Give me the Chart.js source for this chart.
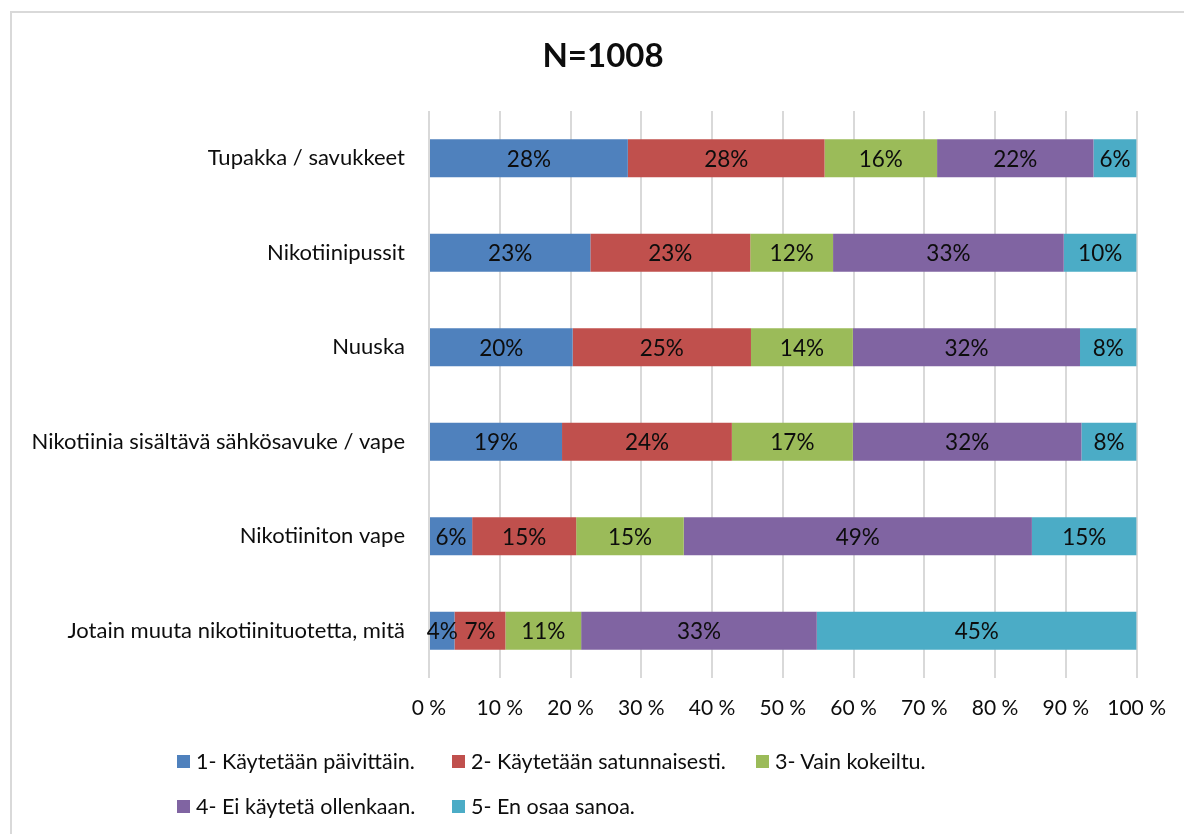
<!DOCTYPE html>
<html>
<head>
<meta charset="utf-8">
<script src="https://cdn.jsdelivr.net/npm/chart.js@4.4.0/dist/chart.umd.min.js"></script>
<style>
  html, body { margin: 0; padding: 0; background: #fff; }
  #wrap { position: relative; width: 1184px; height: 834px; overflow: hidden; font-family: Lato, sans-serif; }
  #frame { position: absolute; left: 10px; top: 11px; width: 1300px; height: 1000px; border: 2px solid #d9d9d9; box-sizing: border-box; }
  #chart { position: absolute; left: 0; top: 0; }
  #title { position: absolute; left: 0; top: 34px; width: 1206px; text-align: center; font-size: 33px; line-height: 40px; font-weight: bold; color: #0d0d0d; }
  #legend { position: absolute; left: 177px; top: 748px; display: grid; grid-template-columns: 275px 304px auto; row-gap: 19px; font-size: 21.5px; color: #0d0d0d; }
  .item { display: flex; align-items: center; white-space: nowrap; height: 26px; }
  .box { width: 13px; height: 13px; margin-right: 6px; flex: none; }
</style>
</head>
<body>
<div id="wrap">
  <div id="frame"></div>
  <canvas id="chart" width="1184" height="834"></canvas>
  <div id="title">N=1008</div>
  <div id="legend"></div>
</div>
<script>
// Kategoriat (tuotteet)
const categories = [
  'Tupakka / savukkeet',
  'Nikotiinipussit',
  'Nuuska',
  'Nikotiinia sisältävä sähkösavuke / vape',
  'Nikotiiniton vape',
  'Jotain muuta nikotiinituotetta, mitä'
];

// Vastausvaihtoehdot
const seriesNames = [
  '1- Käytetään päivittäin.',
  '2- Käytetään satunnaisesti.',
  '3- Vain kokeiltu.',
  '4- Ei käytetä ollenkaan.',
  '5- En osaa sanoa.'
];

// Osuudet (%) luettuna kuvasta
const daily      = [28.1, 22.8, 20.3, 18.8, 6.1, 3.6];
const occasional = [27.8, 22.6, 25.2, 24.0, 14.7, 7.2];
const tried      = [15.9, 11.7, 14.4, 17.1, 15.2, 10.7];
const never      = [22.1, 32.6, 32.1, 32.3, 49.2, 33.3];
const dontKnow   = [6.1, 10.3, 8.0, 7.8, 14.8, 45.2];

const xTicks = [0, 10, 20, 30, 40, 50, 60, 70, 80, 90, 100];

const colors = ['#4F81BD', '#C0504D', '#9BBB59', '#8064A2', '#4BACC6'];
const seriesData = [daily, occasional, tried, never, dontKnow];

// Legenda HTML:nä
const legendEl = document.getElementById('legend');
legendEl.innerHTML = seriesNames.map((name, i) =>
  `<div class="item"><span class="box" style="background:${colors[i]}"></span>${name}</div>`
).join('');

// Arvotekstit palkkien keskelle
const barLabels = {
  id: 'barLabels',
  afterDatasetsDraw(chart) {
    const ctx = chart.ctx;
    ctx.save();
    ctx.font = '22.5px Lato';
    ctx.fillStyle = '#0d0d0d';
    ctx.textAlign = 'center';
    ctx.textBaseline = 'middle';
    chart.data.datasets.forEach((ds, di) => {
      chart.getDatasetMeta(di).data.forEach((el, i) => {
        const cx = (el.x + el.base) / 2;
        ctx.fillText(Math.round(ds.data[i]) + '%', cx, el.y + 1);
      });
    });
    ctx.restore();
  }
};

new Chart(document.getElementById('chart'), {
  type: 'bar',
  data: {
    labels: categories,
    datasets: seriesData.map((d, i) => ({
      label: seriesNames[i],
      data: d,
      backgroundColor: colors[i],
      borderWidth: 0,
      barPercentage: 0.4,
      categoryPercentage: 1.0
    }))
  },
  options: {
    indexAxis: 'y',
    responsive: false,
    animation: false,
    layout: { padding: { left: 0, right: 46, top: 111, bottom: 0 } },
    plugins: {
      legend: { display: false },
      tooltip: { enabled: false },
      title: { display: false }
    },
    scales: {
      x: {
        stacked: true,
        min: 0,
        max: 100,
        afterBuildTicks(scale) { scale.ticks = xTicks.map(v => ({ value: v })); },
        afterFit(scale) { scale.height = 156; },
        grid: { color: '#d9d9d9', lineWidth: 2, drawTicks: false },
        border: { display: false },
        ticks: {
          padding: 18,
          color: '#0d0d0d',
          font: { family: 'Lato', size: 21 },
          callback: v => v + ' %'
        }
      },
      y: {
        stacked: true,
        afterFit(scale) { scale.width = 429; },
        grid: { display: false, drawTicks: false },
        border: { display: false },
        ticks: {
          padding: 24,
          color: '#0d0d0d',
          font: { family: 'Lato', size: 22 }
        }
      }
    }
  },
  plugins: [barLabels]
});
</script>
</body>
</html>
